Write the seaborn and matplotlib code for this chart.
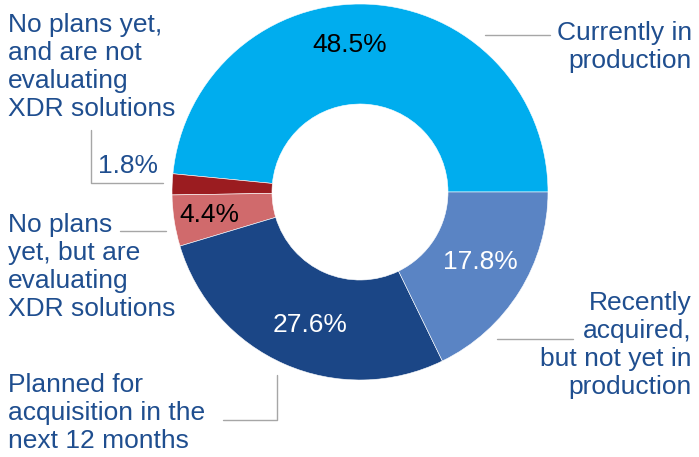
import matplotlib
matplotlib.use("Agg")
import matplotlib.pyplot as plt
import seaborn as sns

# data
categories = ["Currently in\nproduction",
              "No plans yet,\nand are not\nevaluating\nXDR solutions",
              "No plans\nyet, but are\nevaluating\nXDR solutions",
              "Planned for\nacquisition in the\nnext 12 months",
              "Recently\nacquired,\nbut not yet in\nproduction"]
shares = [48.5, 1.8, 4.4, 27.6, 17.8]
pct_labels = ["48.5%", "1.8%", "4.4%", "27.6%", "17.8%"]
slice_colors = ["#00ADEE", "#9B1C20", "#D06A6C", "#1B4686", "#5A84C4"]

sns.set_theme(style="white")
plt.rcParams["font.family"] = ["Liberation Sans", "DejaVu Sans"]

W, H = 699, 457
fig = plt.figure(figsize=(W / 100, H / 100), dpi=100)
ax = fig.add_axes([0, 0, 1, 1])

cx, cy, R = 360, H - 192, 188
pal = sns.color_palette(slice_colors)
ax.pie(shares, colors=pal, startangle=0, counterclock=True,
       center=(cx, cy), radius=R, frame=True,
       wedgeprops=dict(width=R - 88, edgecolor="white", linewidth=0.4))
ax.set_xlim(0, W)
ax.set_ylim(0, H)
ax.set_aspect("equal")
ax.axis("off")

navy = "#1F4E8F"
grey = "#A6A6A6"
fs = 19
ls = 1.21

def Y(p):
    return H - p

# percentage labels
ax.text(350, Y(45), pct_labels[0], fontsize=fs, color="black", ha="center", va="center")
ax.text(128, Y(166), pct_labels[1], fontsize=fs, color=navy, ha="center", va="center")
ax.text(209, Y(215), pct_labels[2], fontsize=fs, color="black", ha="center", va="center")
ax.text(310, Y(325), pct_labels[3], fontsize=fs, color="white", ha="center", va="center")
ax.text(480, Y(262), pct_labels[4], fontsize=fs, color="white", ha="center", va="center")

# category labels
ax.text(692, Y(47), categories[0], fontsize=fs, color=navy, ha="right", va="center",
        linespacing=ls)
ax.text(8, Y(67), categories[1], fontsize=fs, color=navy, ha="left", va="center",
        linespacing=ls)
ax.text(8, Y(267), categories[2], fontsize=fs, color=navy, ha="left", va="center",
        linespacing=ls)
ax.text(8, Y(413), categories[3], fontsize=fs, color=navy, ha="left", va="center",
        linespacing=ls)
ax.text(692, Y(345), categories[4], fontsize=fs, color=navy, ha="right", va="center",
        linespacing=ls)

# leader lines
ax.plot([485, 550], [Y(35), Y(35)], color=grey, lw=1)
ax.plot([497, 573], [Y(339), Y(339)], color=grey, lw=1)
ax.plot([120, 166], [Y(231), Y(231)], color=grey, lw=1)
ax.plot([91, 91, 163], [Y(130), Y(183), Y(183)], color=grey, lw=1)
ax.plot([223, 277, 277], [Y(420), Y(420), Y(375)], color=grey, lw=1)

fig.savefig("out.png", dpi=100, facecolor="white")
